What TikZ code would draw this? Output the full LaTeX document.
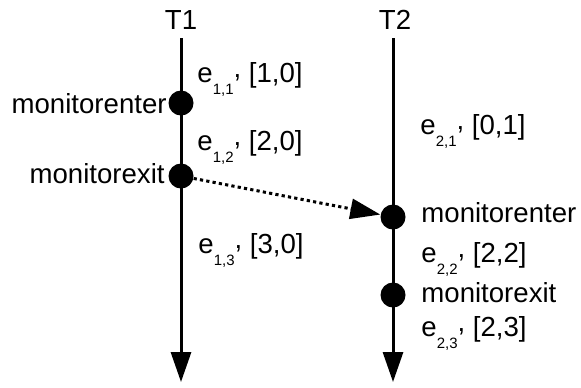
\documentclass[tikz,border=0pt]{standalone}
\usepackage{fontspec}
\setmainfont{Liberation Sans}
\usetikzlibrary{arrows.meta}
\newcommand{\evlab}[2]{e\raisebox{-6pt}{\fontsize{7.5}{8}\selectfont #1}\raisebox{2.5pt}{,} [#2]}

\begin{document}
\begin{tikzpicture}[
  x=0.5pt, y=-0.5pt, every node/.style={font=\fontsize{13.8}{16}\selectfont, inner sep=0pt},
  thread/.style={line width=1.5pt, -{Triangle[length=15pt,width=10pt]}},
  evt/.style={circle, fill=black, minimum size=12.5pt},
  msg/.style={line width=1.5pt, dash pattern=on 1.6pt off 1.6pt, -{Triangle[length=15pt,width=10pt]}},
  lab/.style={anchor=base west},
  act/.style={anchor=base east}
]
\useasboundingbox (0,0) rectangle (581,387);

\node (t1) at (181,20) {T1};
\node (t2) at (395,20) {T2};
\coordinate (t1top) at (181,38);
\coordinate (t1bot) at (181,382);
\coordinate (t2top) at (393,38);
\coordinate (t2bot) at (393,382);

\draw[thread] (t1top) -- (t1bot);
\draw[thread] (t2top) -- (t2bot);

\node[evt] (enter1) at (181,103) {};
\node[evt] (exit1)  at (181,176) {};
\node[evt] (enter2) at (393,217) {};
\node[evt] (exit2)  at (393,295) {};

\node[act] (enter1lab) at (167,113) {monitorenter};
\node[act] (exit1lab)  at (165,183) {monitorexit};
\node[lab] (enter2lab) at (421,222) {monitorenter};
\node[lab] (exit2lab)  at (421,302) {monitorexit};

\node[lab] (e11) at (197,82)  {\evlab{1,1}{1,0}};
\node[lab] (e12) at (197,150) {\evlab{1,2}{2,0}};
\node[lab] (e13) at (198,253) {\evlab{1,3}{3,0}};
\node[lab] (e21) at (420,134) {\evlab{2,1}{0,1}};
\node[lab] (e22) at (421,262) {\evlab{2,2}{2,2}};
\node[lab] (e23) at (421,336) {\evlab{2,3}{2,3}};

\draw[msg] (exit1) -- (enter2);
\end{tikzpicture}
\end{document}
